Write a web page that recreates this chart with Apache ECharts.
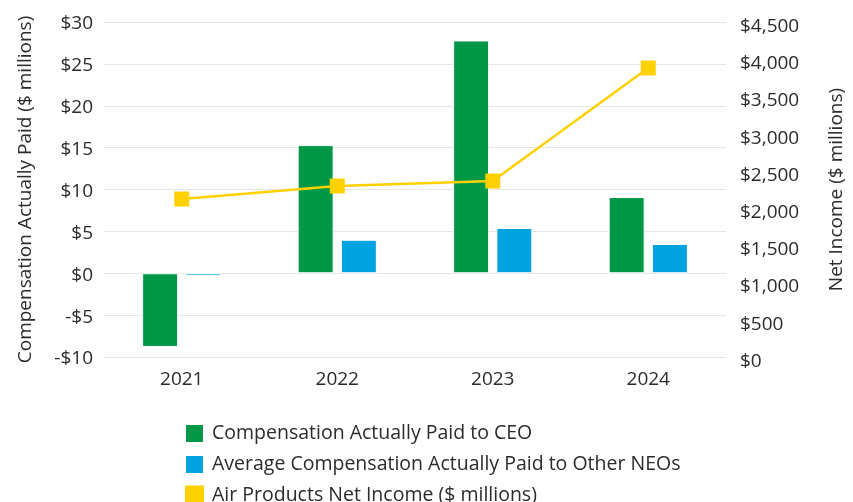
<!DOCTYPE html>
<html><head><meta charset="utf-8">
<script src="https://cdn.jsdelivr.net/npm/echarts@6/dist/echarts.min.js"></script>
<style>html,body{margin:0;padding:0;background:#fff}#c{width:853px;height:502px}</style>
</head><body><div id="c"></div>
<script>
const categories = ['2021', '2022', '2023', '2024'];
const ceoPay = [-8.8, 15.3, 27.8, 9.1];
const neoPay = [-0.3, 4.0, 5.4, 3.5];
const netIncome = [2122, 2297, 2364, 3882];
const seriesNames = ['Compensation Actually Paid to CEO', 'Average Compensation Actually Paid to Other NEOs', 'Air Products Net Income ($ millions)'];

const FONT = 'Open Sans';
const TXT = '#2b2b2b';
const chart = echarts.init(document.getElementById('c'));
chart.setOption({
  animation: false,
  textStyle: { fontFamily: FONT },
  grid: { left: 104, right: 127, top: 22, bottom: 145, containLabel: false, outerBoundsMode: 'none' },
  legend: {
    orient: 'vertical', left: 179, top: 418, height: 120, icon: 'rect',
    itemWidth: 19, itemHeight: 19, itemGap: 10,
    textStyle: { fontFamily: FONT, fontSize: 19.5, color: TXT, padding: [0, 0, 0, 3] },
    data: seriesNames
  },
  xAxis: {
    type: 'category', data: categories,
    axisLine: { show: false }, axisTick: { show: false },
    axisLabel: { fontSize: 19, color: TXT, margin: 13, fontFamily: FONT }
  },
  yAxis: [
    {
      type: 'value', min: -10, max: 30, interval: 5,
      name: 'Compensation Actually Paid ($ millions)', nameLocation: 'middle', nameGap: 69,
      nameTextStyle: { fontSize: 19, color: TXT, fontFamily: FONT },
      axisLine: { show: false }, axisTick: { show: false },
      axisLabel: { fontSize: 19, color: TXT, margin: 11, fontFamily: FONT,
        verticalAlign: 'top', lineHeight: 4,
        formatter: v => (v < 0 ? '-$' + Math.abs(v) : '$' + v) },
      splitLine: { lineStyle: { color: '#e6e6e6', width: 1 } }
    },
    {
      type: 'value', min: 0, max: 4500, interval: 500, position: 'right',
      name: 'Net Income ($ millions)', nameLocation: 'middle', nameGap: 101,
      nameTextStyle: { fontSize: 19, color: TXT, fontFamily: FONT },
      axisLine: { show: false }, axisTick: { show: false },
      axisLabel: { fontSize: 19, color: TXT, margin: 14, fontFamily: FONT,
        verticalAlign: 'top', lineHeight: 9,
        formatter: v => '$' + v.toString().replace(/\B(?=(\d{3})+(?!\d))/g, ',') },
      splitLine: { show: false }
    }
  ],
  series: [
    { name: seriesNames[0], type: 'bar', data: ceoPay, barWidth: 36, barGap: '20%',
      itemStyle: { color: '#009846', borderColor: '#fff', borderWidth: 1 } },
    { name: seriesNames[1], type: 'bar', data: neoPay, barWidth: 36,
      itemStyle: { color: '#00a3e0', borderColor: '#fff', borderWidth: 1 } },
    { name: seriesNames[2], type: 'line', yAxisIndex: 1, data: netIncome,
      symbol: 'rect', symbolSize: 15,
      lineStyle: { color: '#ffd100', width: 2.5 },
      itemStyle: { color: '#ffd100' } }
  ]
});
</script></body></html>
